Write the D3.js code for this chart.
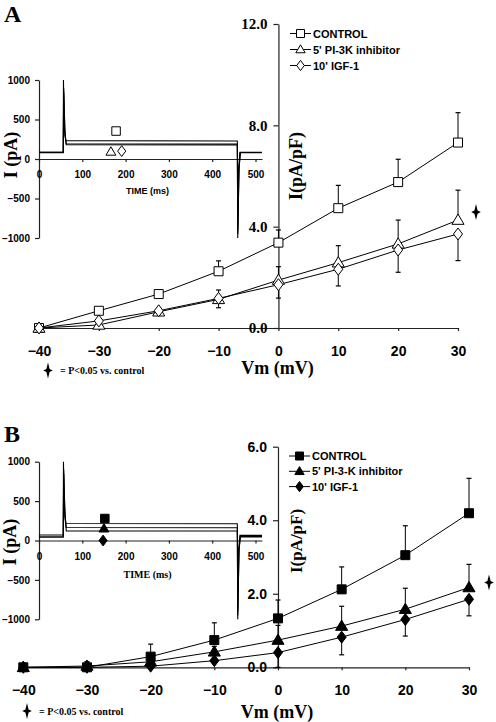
<!DOCTYPE html>
<html><head><meta charset="utf-8">
<script src="https://cdn.jsdelivr.net/npm/d3@7"></script>
<style>body{margin:0;background:#fff}svg{display:block}</style>
</head><body><div id="chart"></div>
<script>
// ---------- DATA ----------
const voltages = [-40, -30, -20, -10, 0, 10, 20, 30];
const yTicksA = [0, 4, 8, 12];
const yTicksB = [0, 2, 4, 6];
const namesA = ["CONTROL", "5' PI-3K inhibitor", "10' IGF-1"];
const namesB = ["CONTROL", "5' PI-3-K inhibitor", "10' IGF-1"];

const controlA    = [0, 0.68, 1.34, 2.24, 3.37, 4.73, 5.76, 7.32];
const controlAErr = [0, 0.05, 0.08, 0.41, 0.50, 0.90, 0.90, 1.18];
const pi3kA       = [0, 0.12, 0.64, 1.13, 1.89, 2.58, 3.32, 4.26];
const pi3kAErr    = [0, 0.05, 0.10, 0.37, 0.53, 0.67, 0.94, 1.18];
const igfA        = [0, 0.28, 0.68, 1.17, 1.71, 2.32, 3.08, 3.71];
const igfAErr     = [0, 0.06, 0.10, 0.37, 0.53, 0.66, 0.88, 1.05];

const controlB    = [0, 0.00, 0.29, 0.74, 1.33, 2.12, 3.05, 4.19];
const controlBErr = [0, 0.05, 0.34, 0.47, 0.50, 0.61, 0.80, 0.95];
const pi3kB       = [0, 0.035, 0.15, 0.42, 0.74, 1.12, 1.58, 2.17];
const pi3kBErr    = [0, 0.12, 0.10, 0.15, 0.40, 0.54, 0.57, 0.63];
const igfB        = [0, 0.00, 0.03, 0.18, 0.40, 0.82, 1.30, 1.85];
const igfBErr     = [0, 0.00, 0.00, 0.05, 0.40, 0.48, 0.45, 0.45];

const insetTimeTicks = [0, 100, 200, 300, 400, 500];
const insetCurrentTicks = [-1000, -500, 0, 500, 1000];

// current traces [time ms, current pA]
const tracesA = [
  [[0,85],[56,85],[56.5,1000],[58,420],[62,232],[458,228],[458.5,0],[459,-1000],[461,-150],[464,85],[515,85]],
  [[0,85],[56,85],[57,900],[60,320],[63,190],[458,188],[459,-900],[462,-100],[465,80],[515,80]],
  [[0,80],[56,80],[57,850],[60,300],[63,180],[458,178],[459,-950],[462,-120],[465,82],[515,82]]
];
const tracesB = [
  [[0,70],[56,70],[56.5,1000],[58,450],[62,215],[458,212],[458.5,0],[459,-1000],[461,-150],[464,65],[515,65]],
  [[0,45],[56,45],[57,900],[60,320],[63,165],[458,162],[459,-900],[462,-100],[465,50],[515,50]],
  [[0,45],[56,45],[57,850],[60,300],[63,122],[458,120],[459,-950],[462,-120],[465,45],[515,45]]
];
const insetMarksA = [[178, 354], [166, 92], [191, 100]];
const insetMarksB = [[152, 279], [150, 152], [148, 0]];

const footnote = "= P<0.05 vs. control";

// ---------- SHAPES ----------
function shape(kind, s) {
  const p = d3.path();
  if (kind === "square") { p.rect(-s/2, -s/2, s, s); }
  else if (kind === "triangle") { const w = s*0.55, h = s*0.55; p.moveTo(0, -h); p.lineTo(w, h*0.7); p.lineTo(-w, h*0.7); p.closePath(); }
  else if (kind === "diamond") { const w = s*0.45, h = s*0.6; p.moveTo(0,-h); p.lineTo(w,0); p.lineTo(0,h); p.lineTo(-w,0); p.closePath(); }
  else if (kind === "star") { const h = s, w = s*0.6, c = s*0.2; p.moveTo(0,-h); p.lineTo(c,-c); p.lineTo(w,0); p.lineTo(c,c); p.lineTo(0,h); p.lineTo(-c,c); p.lineTo(-w,0); p.lineTo(-c,-c); p.closePath(); }
  return p.toString();
}

const W = 496, H = 722;
const svg = d3.select("#chart").append("svg").attr("width", W).attr("height", H);
const SERIF = "'Liberation Serif','Times New Roman',serif";
const SANS = "'Liberation Sans',Arial,sans-serif";
const AX = "#222";

function styleAxis(g, font, size) {
  g.select(".domain").attr("stroke", AX).attr("stroke-width", 1.2);
  g.selectAll(".tick line").attr("stroke", AX).attr("stroke-width", 1.2);
  g.selectAll(".tick text").attr("fill", "#000").style("font-family", font).style("font-weight", "bold").style("font-size", size + "px");
}

function drawPanel(cfg) {
  const g = svg.append("g");
  // panel letter
  g.append("text").attr("x", cfg.letterX).attr("y", cfg.letterY).text(cfg.letter)
    .style("font-family", SERIF).style("font-weight", "bold").style("font-size", "24px");

  // ----- inset -----
  const ix = d3.scaleLinear().domain([0, 515]).range(cfg.insetX);
  const iy = d3.scaleLinear().domain([-1000, 1000]).range(cfg.insetY);
  const iyAx = g.append("g").attr("transform", `translate(${ix(0)},0)`)
    .call(d3.axisLeft(iy).tickValues(insetCurrentTicks).tickFormat(d3.format("d")).tickSize(4).tickSizeOuter(0).tickPadding(5));
  styleAxis(iyAx, SANS, 10);
  const ixAx = g.append("g").attr("transform", `translate(0,${iy(0)})`)
    .call(d3.axisBottom(ix).tickValues(insetTimeTicks).tickFormat(d3.format("d")).tickSize(3).tickSizeOuter(0).tickPadding(9));
  styleAxis(ixAx, SANS, 10);
  const line = d3.line().x(d => ix(d[0])).y(d => iy(d[1]));
  g.selectAll(null).data(cfg.traces).join("path").attr("d", line)
    .attr("fill", "none").attr("stroke", "#000").attr("stroke-width", 1.1);
  g.append("text").attr("x", (ix(0) + ix(515)) / 2 - 3).attr("y", iy(0) + cfg.timeDy).text("TIME (ms)")
    .attr("text-anchor", "middle").style("font-family", cfg.timeFont).style("font-weight", "bold").style("font-size", cfg.timeSize + "px");
  g.append("text").attr("transform", `translate(${cfg.iLabelX},${cfg.iLabelY}) rotate(-90)`).text("I (pA)")
    .attr("text-anchor", "middle").style("font-family", SERIF).style("font-weight", "bold").style("font-size", "18px");
  cfg.insetMarks.forEach((m, i) => {
    g.append("path").attr("transform", `translate(${ix(m[0])},${iy(m[1])})`)
      .attr("d", shape(["square", "triangle", "diamond"][i], i === 0 ? 8.5 : 9))
      .attr("fill", cfg.filled ? "#000" : "#fff").attr("stroke", "#000").attr("stroke-width", 1);
  });

  // ----- main chart -----
  const x = d3.scaleLinear().domain([-40, 30]).range(cfg.mainX);
  const y = d3.scaleLinear().domain([0, cfg.yMax]).range(cfg.mainY);
  const xAx = g.append("g").attr("transform", `translate(0,${y(0)})`)
    .call(d3.axisBottom(x).tickValues(voltages).tickFormat(d3.format("d")).tickSize(3).tickSizeOuter(0).tickPadding(15));
  styleAxis(xAx, SANS, 14);
  const yAx = g.append("g").attr("transform", `translate(${x(0)},0)`)
    .call(d3.axisLeft(y).tickValues(cfg.yTicks).tickFormat(d3.format(".1f")).tickSize(5).tickSizeOuter(0).tickPadding(6));
  styleAxis(yAx, cfg.yFont, cfg.yFontSize);
  g.append("text").attr("transform", `translate(${x(0) + 24},${cfg.yLabelY}) rotate(-90)`).text("I(pA/pF)")
    .attr("text-anchor", "middle").style("font-family", SERIF).style("font-weight", "bold").style("font-size", cfg.yLabelSize + "px");
  g.append("text").attr("x", x(0) - 1).attr("y", cfg.vmY).text("Vm (mV)")
    .attr("text-anchor", "middle").style("font-family", SERIF).style("font-weight", "bold").style("font-size", "18px");

  const kinds = ["square", "triangle", "diamond"];
  const errDir = [1, 1, -1];
  const sizes = [9, 11, 10];
  const ln = d3.line().x((d, i) => x(voltages[i])).y(d => y(d));
  cfg.series.forEach((s, k) => {
    g.append("path").attr("d", ln(s.v)).attr("fill", "none").attr("stroke", "#000").attr("stroke-width", 1);
  });
  cfg.series.forEach((s, k) => {
    s.v.forEach((v, i) => {
      const e = s.e[i];
      if (e > 0) {
        const y1 = y(v + errDir[k] * e);
        g.append("line").attr("x1", x(voltages[i])).attr("x2", x(voltages[i])).attr("y1", y(v)).attr("y2", y1)
          .attr("stroke", "#000").attr("stroke-width", 1);
        g.append("line").attr("x1", x(voltages[i]) - 2.5).attr("x2", x(voltages[i]) + 2.5).attr("y1", y1).attr("y2", y1)
          .attr("stroke", "#000").attr("stroke-width", 1.2);
      }
    });
  });
  cfg.series.forEach((s, k) => {
    s.v.forEach((v, i) => {
      g.append("path").attr("transform", `translate(${x(voltages[i])},${y(v)})`).attr("d", shape(kinds[k], sizes[k]))
        .attr("fill", cfg.filled ? "#000" : "#fff").attr("stroke", "#000").attr("stroke-width", 1);
    });
  });

  // significance star next to last point of PI-3K series
  const last = voltages.length - 1;
  g.append("path").attr("transform", `translate(${x(voltages[last]) + cfg.starDx},${y(cfg.series[1].v[last]) + cfg.starDy})`)
    .attr("d", shape("star", 8)).attr("fill", "#000");

  // legend
  cfg.names.forEach((n, k) => {
    const ly = cfg.legendY + k * cfg.legendStep;
    g.append("line").attr("x1", cfg.legendX).attr("x2", cfg.legendX + 21).attr("y1", ly).attr("y2", ly).attr("stroke", "#000").attr("stroke-width", 1);
    g.append("path").attr("transform", `translate(${cfg.legendX + 10.5},${ly})`).attr("d", shape(kinds[k], k === 0 ? 8 : 8.5))
      .attr("fill", cfg.filled ? "#000" : "#fff").attr("stroke", "#000").attr("stroke-width", 1);
    g.append("text").attr("x", cfg.legendX + 23).attr("y", ly + 4).text(n)
      .style("font-family", SANS).style("font-weight", "bold").style("font-size", "11px");
  });

  // footnote
  g.append("path").attr("transform", `translate(${cfg.footX},${cfg.footY})`).attr("d", shape("star", 8)).attr("fill", "#000");
  g.append("text").attr("x", cfg.footX + 12).attr("y", cfg.footY + 3.5).text(footnote)
    .style("font-family", SERIF).style("font-weight", "bold").style("font-size", "10px");
}

drawPanel({
  letter: "A", letterX: 4, letterY: 22,
  insetX: [39, 262], insetY: [238, 80], traces: tracesA, insetMarks: insetMarksA,
  timeDy: 35, timeFont: SANS, timeSize: 9, iLabelX: 17, iLabelY: 155,
  mainX: [39, 458], mainY: [328, 24], yMax: 12, yTicks: yTicksA, yFont: SERIF, yFontSize: 15,
  yLabelY: 166, yLabelSize: 18, vmY: 374,
  series: [{v: controlA, e: controlAErr}, {v: pi3kA, e: pi3kAErr}, {v: igfA, e: igfAErr}],
  filled: false, names: namesA, legendX: 290, legendY: 33.5, legendStep: 16,
  starDx: 18, starDy: -8, footX: 48, footY: 370.5
});

drawPanel({
  letter: "B", letterX: 4, letterY: 442,
  insetX: [39, 262], insetY: [619.3, 461.7], traces: tracesB, insetMarks: insetMarksB,
  timeDy: 37, timeFont: SERIF, timeSize: 10, iLabelX: 16, iLabelY: 542,
  mainX: [23.3, 469], mainY: [667.3, 446.7], yMax: 6, yTicks: yTicksB, yFont: SANS, yFontSize: 14,
  yLabelY: 541, yLabelSize: 17, vmY: 718,
  series: [{v: controlB, e: controlBErr}, {v: pi3kB, e: pi3kBErr}, {v: igfB, e: igfBErr}],
  filled: true, names: namesB, legendX: 289, legendY: 456, legendStep: 15.3,
  starDx: 20, starDy: -5, footX: 27, footY: 711
});
</script>
</body></html>
